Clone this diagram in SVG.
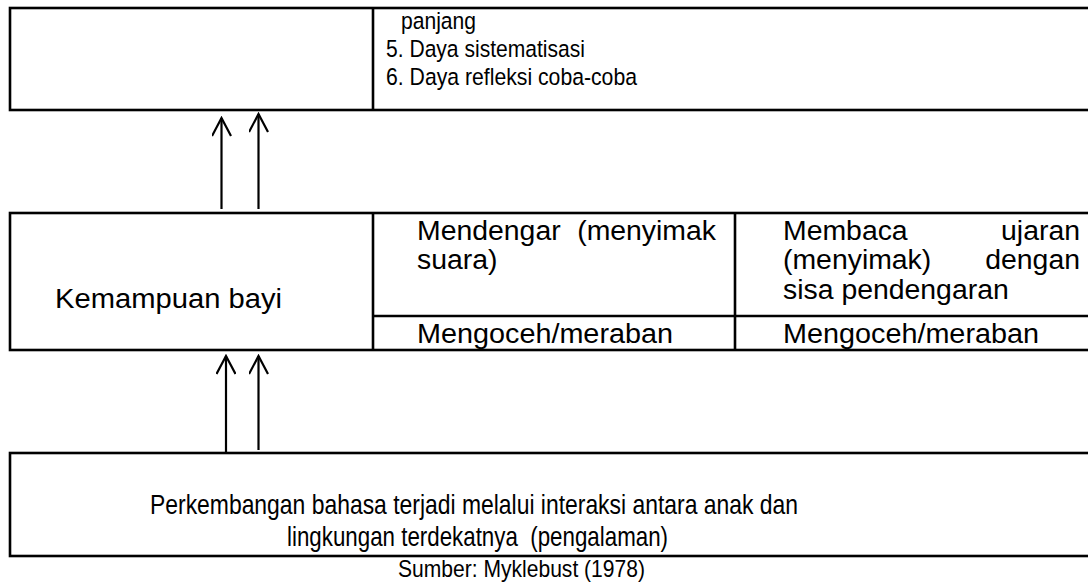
<svg xmlns="http://www.w3.org/2000/svg" width="1088" height="588" viewBox="0 0 1088 588">
<style>
.box{fill:#fff;stroke:#000;stroke-width:2.6}
.ln{stroke:#000;stroke-width:2.6;fill:none}
.t{font-family:"Liberation Sans",Arial,sans-serif;fill:#000;white-space:pre}
.mid{font-size:28.4px}
.top{font-size:24.5px}
.bot{font-size:27.5px}
.src{font-size:24.5px}
.arr{stroke:#000;stroke-width:2.2;fill:none}
</style>
<defs>
<marker id="ah" viewBox="-10 -2 20 22" markerWidth="20" markerHeight="22" refX="0" refY="0" markerUnits="userSpaceOnUse" orient="0">
<path d="M-9.5,18 L0,0 L9.5,18" fill="none" stroke="#000" stroke-width="2.2"/>
</marker>
</defs>
<rect width="1088" height="588" fill="#fff"/>
<g id="node-top">
<rect class="box" x="10" y="8" width="1090" height="102"/>
<line class="ln" x1="373" y1="8" x2="373" y2="110"/>
<text class="t top" x="401" y="29" textLength="75" lengthAdjust="spacingAndGlyphs">panjang</text>
<text class="t top" x="386" y="57" textLength="199" lengthAdjust="spacingAndGlyphs">5. Daya sistematisasi</text>
<text class="t top" x="386" y="84.5" textLength="251" lengthAdjust="spacingAndGlyphs">6. Daya refleksi coba-coba</text>
</g>
<g id="node-mid">
<rect class="box" x="10" y="213" width="1090" height="137"/>
<line class="ln" x1="373" y1="213" x2="373" y2="350"/>
<line class="ln" x1="735" y1="213" x2="735" y2="350"/>
<line class="ln" x1="373" y1="316" x2="1090" y2="316"/>
<text class="t mid" x="55" y="308" textLength="227" lengthAdjust="spacingAndGlyphs">Kemampuan bayi</text>
<text class="t mid" x="417" y="240">Mendengar</text>
<text class="t mid" x="716" y="240" text-anchor="end">(menyimak</text>
<text class="t mid" x="417" y="269">suara)</text>
<text class="t mid" x="417" y="343" textLength="256" lengthAdjust="spacingAndGlyphs">Mengoceh/meraban</text>
<text class="t mid" x="783" y="240">Membaca</text>
<text class="t mid" x="1080" y="240" text-anchor="end">ujaran</text>
<text class="t mid" x="783" y="269">(menyimak)</text>
<text class="t mid" x="1080" y="269" text-anchor="end">dengan</text>
<text class="t mid" x="783" y="299">sisa pendengaran</text>
<text class="t mid" x="783" y="343" textLength="256" lengthAdjust="spacingAndGlyphs">Mengoceh/meraban</text>
</g>
<g id="node-bottom">
<rect class="box" x="10" y="453" width="1090" height="103"/>
<text class="t bot" x="150" y="514" textLength="648" lengthAdjust="spacingAndGlyphs">Perkembangan bahasa terjadi melalui interaksi antara anak dan</text>
<text class="t bot" x="287" y="546" textLength="381" lengthAdjust="spacingAndGlyphs">lingkungan terdekatnya  (pengalaman)</text>
</g>
<g id="source">
<text class="t src" x="398" y="577" textLength="247" lengthAdjust="spacingAndGlyphs">Sumber: Myklebust (1978)</text>
</g>
<g id="connectors">
<line class="arr" x1="221.5" y1="209" x2="221.5" y2="118" marker-end="url(#ah)"/>
<line class="arr" x1="258.5" y1="209" x2="258.5" y2="114" marker-end="url(#ah)"/>
<line class="arr" x1="226" y1="454" x2="226" y2="356" marker-end="url(#ah)"/>
<line class="arr" x1="258.5" y1="450" x2="258.5" y2="356" marker-end="url(#ah)"/>
</g>
</svg>
